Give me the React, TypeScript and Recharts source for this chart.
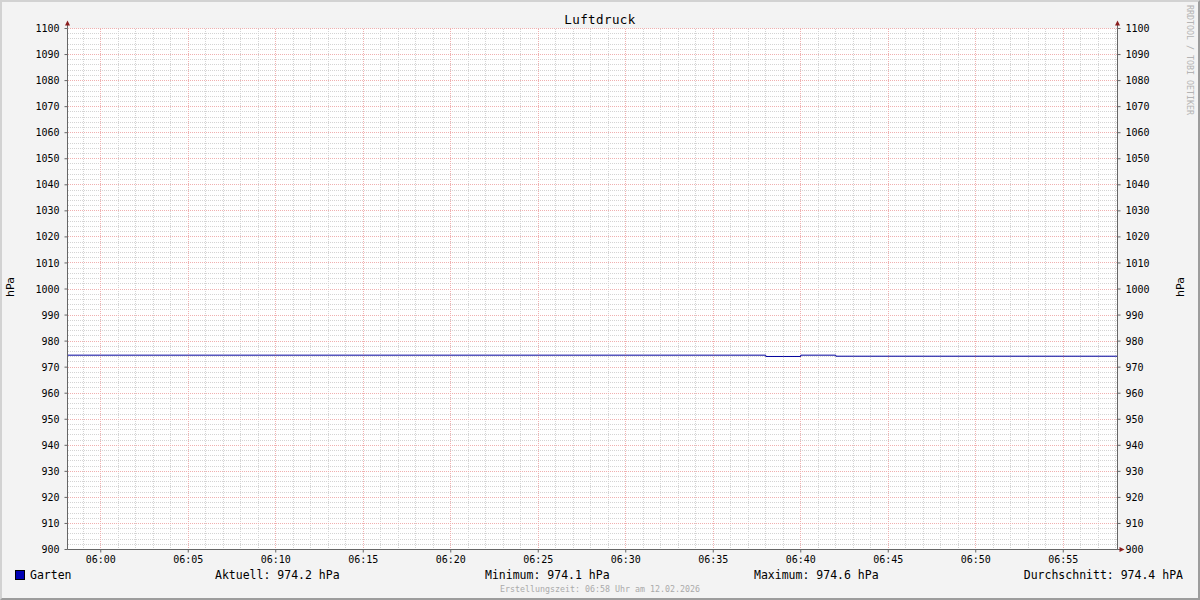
import React from 'react'
import { LineChart, Line, XAxis, YAxis, CartesianGrid, ReferenceLine, ReferenceDot } from 'recharts'

// minutes after 06:00 (window runs 05:58:06 .. 06:58:06)
const minutes = [
  -1.9, -1, 0, 1, 2, 3, 4, 5, 6, 7, 8, 9, 10, 11, 12, 13, 14, 15, 16, 17, 18, 19,
  20, 21, 22, 23, 24, 25, 26, 27, 28, 29, 30, 31, 32, 33, 34, 35, 36, 37, 38, 39,
  40, 41, 42, 43, 44, 45, 46, 47, 48, 49, 50, 51, 52, 53, 54, 55, 56, 57, 58, 58.1,
]

// Garten, hPa
const garten = [
  974.6, 974.6, 974.6, 974.6, 974.6, 974.6, 974.6, 974.6, 974.6, 974.6, 974.6, 974.6,
  974.6, 974.6, 974.6, 974.6, 974.6, 974.6, 974.6, 974.6, 974.6, 974.6, 974.6, 974.6,
  974.6, 974.6, 974.6, 974.6, 974.6, 974.6, 974.6, 974.6, 974.6, 974.6, 974.6, 974.6,
  974.6, 974.6, 974.6, 974.6, 974.1, 974.1, 974.6, 974.6, 974.2, 974.2, 974.2, 974.2,
  974.2, 974.2, 974.2, 974.2, 974.2, 974.2, 974.2, 974.2, 974.2, 974.2, 974.2, 974.2,
  974.2, 974.2,
]

const xTicks = [0, 5, 10, 15, 20, 25, 30, 35, 40, 45, 50, 55]
const xTickLabels = ['06:00', '06:05', '06:10', '06:15', '06:20', '06:25', '06:30', '06:35', '06:40', '06:45', '06:50', '06:55']
const yTicks = [900, 910, 920, 930, 940, 950, 960, 970, 980, 990, 1000, 1010, 1020, 1030, 1040, 1050, 1060, 1070, 1080, 1090, 1100]

const X_MIN = -1.9
const X_MAX = 58.1

const data = minutes.map((m, i) => ({ m, garten: garten[i] }))

// grid: 1 minute / 2 hPa minor, 5 minute / 10 hPa major
const xMinor: number[] = []
for (let m = -1; m <= 58; m++) if (m % 5 !== 0) xMinor.push(m)
const yMinor: number[] = []
for (let v = 902; v < 1100; v += 2) if (v % 10 !== 0) yMinor.push(v)
const yMajor = yTicks.filter(v => v !== 900)

const mono = '"DejaVu Sans Mono", monospace'
const AXIS = '#666'
const ARROW = '#8b1c1c'
const MINOR = '#d4d4d4'
const MAJOR = '#f0b0b0'

const UpArrow = (p: any) => (
  <g>
    <line x1={p.cx} y1={p.cy} x2={p.cx} y2={p.cy - 4} stroke={AXIS} strokeWidth={1} />
    <polygon points={`${p.cx},${p.cy - 8} ${p.cx - 2.5},${p.cy - 3} ${p.cx + 2.5},${p.cy - 3}`} fill={ARROW} />
  </g>
)

const RightArrow = (p: any) => (
  <g>
    <line x1={p.cx} y1={p.cy} x2={p.cx + 3} y2={p.cy} stroke={AXIS} strokeWidth={1} />
    <polygon points={`${p.cx + 7},${p.cy} ${p.cx + 2},${p.cy - 2.5} ${p.cx + 2},${p.cy + 2.5}`} fill={ARROW} />
  </g>
)

const txt = (extra: React.CSSProperties): React.CSSProperties => ({
  position: 'absolute',
  fontFamily: mono,
  whiteSpace: 'nowrap',
  lineHeight: 1,
  color: '#000',
  ...extra,
})

export default function App() {
  return (
    <div style={{ position: 'absolute', left: 0, top: 0, width: 1200, height: 600, background: '#f3f3f3' }}>
      <LineChart
        width={1200}
        height={600}
        data={data}
        margin={{ top: 28.5, right: 0.5, bottom: 0, left: 0.5 }}
      >
        <CartesianGrid fill="#ffffff" horizontal={false} vertical={false} />
        {xMinor.map(m => (
          <ReferenceLine key={'xm' + m} x={m} stroke={MINOR} strokeDasharray="1 1" shapeRendering="crispEdges" />
        ))}
        {yMinor.map(v => (
          <ReferenceLine key={'ym' + v} y={v} stroke={MINOR} strokeDasharray="1 1" shapeRendering="crispEdges" />
        ))}
        {xTicks.map(m => (
          <ReferenceLine key={'xM' + m} x={m} stroke={MAJOR} strokeDasharray="1 1" shapeRendering="crispEdges" />
        ))}
        {yMajor.map(v => (
          <ReferenceLine key={'yM' + v} y={v} stroke={MAJOR} strokeDasharray="1 1" shapeRendering="crispEdges" />
        ))}
        <XAxis
          dataKey="m"
          type="number"
          domain={[X_MIN, X_MAX]}
          ticks={xTicks}
          tickFormatter={(v: number) => xTickLabels[xTicks.indexOf(v)]}
          height={50.5}
          tickSize={3}
          tickMargin={3}
          axisLine={{ stroke: AXIS }}
          tickLine={{ stroke: AXIS }}
          tick={{ fontSize: 10, fontFamily: mono, fill: '#000' }}
          allowDataOverflow
        />
        <YAxis
          type="number"
          domain={[900, 1100]}
          ticks={yTicks}
          width={67}
          tickSize={3}
          tickMargin={5}
          axisLine={{ stroke: AXIS }}
          tickLine={{ stroke: AXIS }}
          tick={{ fontSize: 10, fontFamily: mono, fill: '#000' }}
          interval={0}
          allowDataOverflow
        />
        <YAxis
          yAxisId="right"
          orientation="right"
          type="number"
          domain={[900, 1100]}
          ticks={yTicks}
          width={82}
          tickSize={3}
          tickMargin={5}
          axisLine={{ stroke: AXIS }}
          tickLine={{ stroke: AXIS }}
          tick={{ fontSize: 10, fontFamily: mono, fill: '#000' }}
          interval={0}
          allowDataOverflow
        />
        <Line
          type="stepAfter"
          dataKey="garten"
          stroke="#00009c"
          strokeWidth={1}
          dot={false}
          activeDot={false}
          isAnimationActive={false}
        />
        <ReferenceDot x={X_MIN} y={1100} r={0} shape={UpArrow} ifOverflow="visible" />
        <ReferenceDot x={X_MAX} y={1100} r={0} shape={UpArrow} ifOverflow="visible" />
        <ReferenceDot x={X_MAX} y={900} r={0} shape={RightArrow} ifOverflow="visible" />
      </LineChart>

      <div style={txt({ left: 0, width: 1200, top: 13.5, textAlign: 'center', fontSize: 12.5, letterSpacing: 0.4 })}>Luftdruck</div>

      <div style={txt({ left: 10, top: 287, fontSize: 11, fontFamily: '"DejaVu Sans", sans-serif', transform: 'translate(-50%, -50%) rotate(-90deg)' })}>hPa</div>
      <div style={txt({ left: 1180, top: 287, fontSize: 11, fontFamily: '"DejaVu Sans", sans-serif', transform: 'translate(-50%, -50%) rotate(-90deg)' })}>hPa</div>

      <div style={txt({ left: 1190, top: 60, fontSize: 8.3, color: '#b4b4b4', transform: 'translate(-50%, -50%) rotate(90deg)' })}>RRDTOOL / TOBI OETIKER</div>

      <div style={{ position: 'absolute', left: 15, top: 570, width: 8, height: 8, background: '#0000b4', border: '1px solid #000' }} />
      <div style={txt({ left: 30, top: 569.5, fontSize: 11.5 })}>Garten</div>
      <div style={txt({ left: 215, top: 569.5, fontSize: 11.5 })}>Aktuell: 974.2 hPa</div>
      <div style={txt({ left: 485, top: 569.5, fontSize: 11.5 })}>Minimum: 974.1 hPa</div>
      <div style={txt({ left: 754, top: 569.5, fontSize: 11.5 })}>Maximum: 974.6 hPa</div>
      <div style={txt({ right: 17, top: 569.5, fontSize: 11.5 })}>Durchschnitt: 974.4 hPA</div>

      <div style={txt({ left: 0, width: 1200, top: 585, textAlign: 'center', fontSize: 8.3, color: '#aaaaaa' })}>Erstellungszeit: 06:58 Uhr am 12.02.2026</div>

      <div
        style={{
          position: 'absolute',
          left: 0,
          top: 0,
          width: 1200,
          height: 600,
          boxSizing: 'border-box',
          borderTop: '2px solid #d2d2d2',
          borderLeft: '2px solid #d2d2d2',
          borderBottom: '2px solid #9c9c9c',
          borderRight: '2px solid #9c9c9c',
          pointerEvents: 'none',
        }}
      />
    </div>
  )
}
